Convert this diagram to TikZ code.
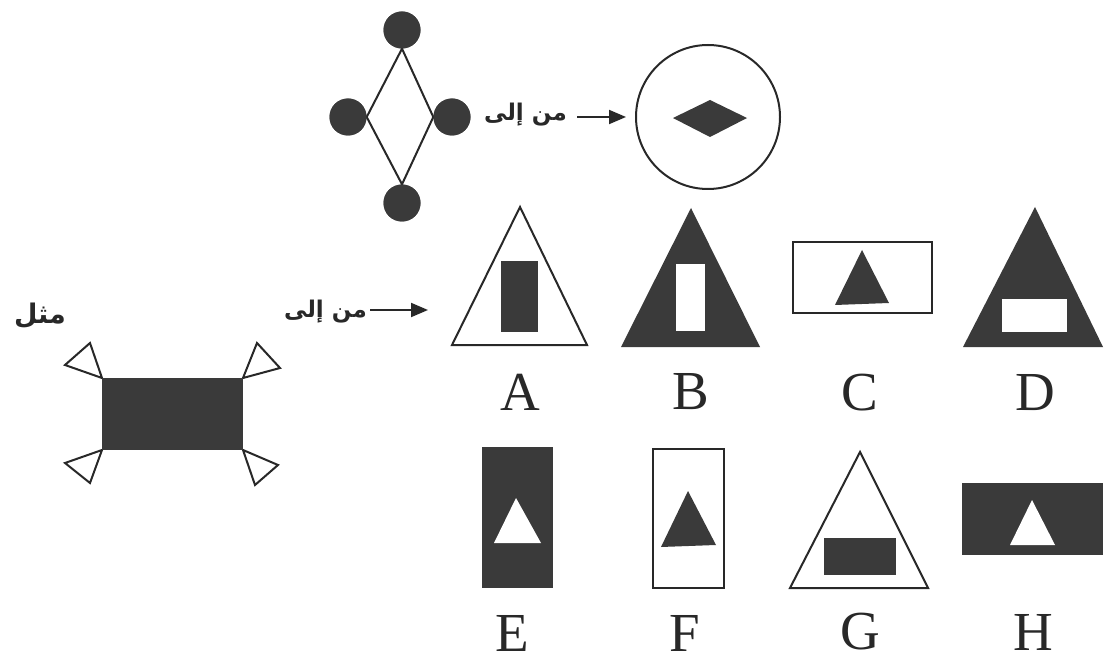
\documentclass[tikz,border=0pt]{standalone}
\usepackage{fontspec}
\setmainfont{Liberation Serif}
\newfontfamily\arabicfont[Script=Arabic]{DejaVu Sans}
\TeXXeTstate=1
\usetikzlibrary{arrows.meta}
\definecolor{ink}{RGB}{40,40,40}
\definecolor{dark}{RGB}{58,58,58}
\tikzset{
  outline/.style={draw=ink, line width=2pt, fill=white, line join=miter},
  letter/.style={font=\fontsize{55}{55}\selectfont, text=ink, inner sep=0pt},
  ar/.style={font=\arabicfont\bfseries\fontsize{23}{27}\selectfont, text=ink, inner sep=0pt},
  arr/.style={draw=ink, line width=2pt, -{Triangle[length=17pt,width=14pt]}},
  dot/.style={circle, fill=dark, minimum size=37pt, inner sep=0pt},
  link/.style={draw=ink, line width=2pt}
}
\begin{document}
\begin{tikzpicture}[x=1pt,y=-1pt]
\useasboundingbox[fill=white] (0,0) rectangle (1104,663);

% --- top: rhombus of dots
\node[dot] (dT) at (402,30) {};
\node[dot] (dL) at (348,117) {};
\node[dot] (dR) at (452,117) {};
\node[dot] (dB) at (402,203) {};
\draw[link] (dT.south) -- (dL.east) -- (dB.north) -- (dR.west) -- cycle;
\node[dot] at (dT) {};
\node[dot] at (dL) {};
\node[dot] at (dR) {};
\node[dot] at (dB) {};

\node[ar, anchor=east] (t1) at (567,115) {\beginR من إلى\endR};
\node[circle, draw=ink, line width=2pt, minimum size=144pt, inner sep=0pt] (circ) at (708,117) {};
\draw[arr, shorten <=10pt, shorten >=9pt] (t1.east |- circ.west) -- (circ.west);
\fill[dark] (673,118) -- (710,100) -- (747,118) -- (710,137) -- cycle;

% --- example figure
\node[ar, font=\arabicfont\bfseries\fontsize{27}{30}\selectfont] (ex) at (40,316) {\beginR مثل\endR};
\node[ar, anchor=east] (t2) at (367,312) {\beginR من إلى\endR};
\coordinate (a2e) at (428,310);
\draw[arr, shorten <=3pt] (t2.east |- a2e) -- (a2e);

\draw[outline] (102,378) -- (65,365) -- (90,343) -- cycle;
\draw[outline] (243,378) -- (257,343) -- (280,368) -- cycle;
\draw[outline] (102,450) -- (65,463) -- (90,483) -- cycle;
\draw[outline] (243,450) -- (278,465) -- (255,485) -- cycle;
\fill[dark] (102,378) rectangle (243,450);

% --- A
\draw[outline] (520,207) -- (452,345) -- (587,345) -- cycle;
\fill[dark] (501,261) rectangle (538,332);
% --- B
\fill[dark] (691,208) -- (621,347) -- (760,347) -- cycle;
\fill[white] (676,264) rectangle (705,331);
% --- C
\draw[outline] (793,242) rectangle (932,313);
\fill[dark] (862,250) -- (835,305) -- (889,303) -- cycle;
% --- D
\fill[dark] (1035,207) -- (963,347) -- (1103,347) -- cycle;
\fill[white] (1002,299) rectangle (1067,332);

% --- E
\fill[dark] (482,447) rectangle (553,588);
\fill[white] (516,498) -- (494,543) -- (541,543) -- cycle;
% --- F
\draw[outline] (653,449) rectangle (724,588);
\fill[dark] (688,491) -- (661,547) -- (716,545) -- cycle;
% --- G
\draw[outline] (860,452) -- (790,588) -- (928,588) -- cycle;
\fill[dark] (824,538) rectangle (896,575);
% --- H
\fill[dark] (962,483) rectangle (1103,555);
\fill[white] (1032,500) -- (1010,545) -- (1055,545) -- cycle;

% --- labels
\node[letter] (lA) at (520,392) {A};
\node[letter] (lB) at (691,392) {B};
\node[letter] (lC) at (860,393) {C};
\node[letter] (lD) at (1035,393) {D};
\node[letter] (lE) at (512,633) {E};
\node[letter] (lF) at (685,633) {F};
\node[letter] (lG) at (860,632) {G};
\node[letter] (lH) at (1033,632) {H};
\end{tikzpicture}
\end{document}
